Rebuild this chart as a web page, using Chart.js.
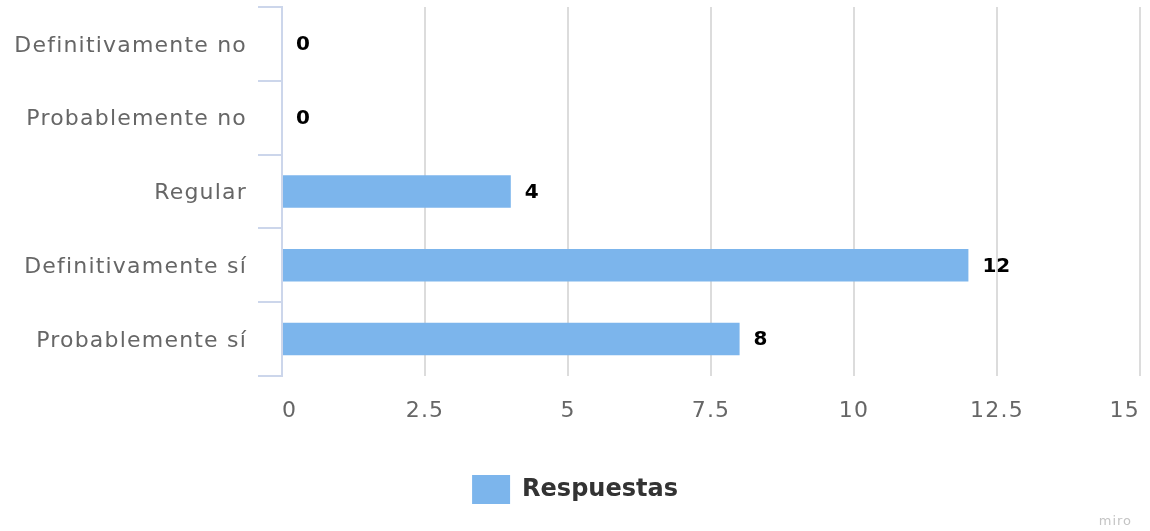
<!DOCTYPE html>
<html>
<head>
<meta charset="utf-8">
<script src="https://cdn.jsdelivr.net/npm/chart.js@4/dist/chart.umd.min.js"></script>
<style>
html,body{margin:0;padding:0;background:#fff;}
#wrap{width:1150px;height:531px;}
</style>
</head>
<body>
<div id="wrap"><canvas id="c" width="1150" height="531"></canvas></div>
<script>
const categories = ["Definitivamente no", "Probablemente no", "Regular", "Definitivamente sí", "Probablemente sí"];
const respuestas = [0, 0, 4, 12, 8];
const seriesName = "Respuestas";
const xTickValues = [0, 2.5, 5, 7.5, 10, 12.5, 15];

const FONT = "'DejaVu Sans', sans-serif";

const dataLabels = {
  id: 'dataLabels',
  afterDatasetsDraw(chart) {
    const ctx = chart.ctx;
    const meta = chart.getDatasetMeta(0);
    ctx.save();
    ctx.letterSpacing = '0px';
    ctx.font = "bold 20px " + FONT;
    ctx.fillStyle = "#000";
    ctx.textAlign = "left";
    ctx.textBaseline = "middle";
    meta.data.forEach((el, i) => {
      ctx.fillText(String(chart.data.datasets[0].data[i]), el.x + 14, el.y + 1);
    });
    ctx.restore();
  }
};

// axis tick labels are drawn after datasets (ticks.z = 1); give them the slightly open spacing of the original
const tickSpacing = {
  id: 'tickSpacing',
  beforeDraw(chart) { chart.ctx.letterSpacing = '0px'; },
  afterDatasetsDraw(chart) { chart.ctx.letterSpacing = '1.2px'; },
  afterDraw(chart) { chart.ctx.letterSpacing = '0px'; }
};

const credit = {
  id: 'credit',
  afterDraw(chart) {
    const ctx = chart.ctx;
    ctx.save();
    ctx.letterSpacing = '1px';
    ctx.font = "13px " + FONT;
    ctx.fillStyle = "#c4c4c4";
    ctx.textAlign = "right";
    ctx.textBaseline = "middle";
    ctx.fillText("miro", 1132, 522);
    ctx.restore();
  }
};

new Chart(document.getElementById('c'), {
  type: 'bar',
  data: {
    labels: categories,
    datasets: [{
      label: seriesName,
      data: respuestas,
      backgroundColor: '#7cb5ec',
      borderWidth: 0,
      barPercentage: 0.44,
      categoryPercentage: 1.0
    }]
  },
  options: {
    indexAxis: 'y',
    responsive: false,
    animation: false,
    layout: { padding: { top: 7, right: 0, left: 0, bottom: 17 } },
    scales: {
      x: {
        min: 0, max: 15,
        afterBuildTicks(scale) { scale.ticks = xTickValues.map(v => ({ value: v })); },
        afterFit(scale) {
          scale.height = 89;
          scale.paddingLeft = 0;
          scale.paddingRight = 10;
        },
        grid: { color: '#dcdcdc', lineWidth: 2, drawTicks: false },
        border: { display: false },
        ticks: {
          z: 1,
          align: 'inner',
          padding: 22,
          color: '#666666',
          font: { family: FONT, size: 22 },
          callback: (v) => String(v)
        }
      },
      y: {
        afterFit(scale) {
          scale.width = 282;
          scale.paddingTop = 0;
          scale.paddingBottom = 0;
        },
        grid: {
          offset: true,
          drawOnChartArea: false,
          drawTicks: true,
          tickLength: 24,
          color: '#ccd6eb',
          lineWidth: 2
        },
        border: { display: true, color: '#ccd6eb', width: 2 },
        ticks: {
          z: 1,
          padding: 11,
          labelOffset: 2,
          color: '#666666',
          font: { family: FONT, size: 22 }
        }
      }
    },
    plugins: {
      legend: {
        position: 'bottom',
        labels: {
          boxWidth: 38,
          boxHeight: 29,
          padding: 10,
          color: '#333333',
          font: { family: FONT, size: 24, weight: 'bold' }
        }
      },
      tooltip: { enabled: false }
    }
  },
  plugins: [dataLabels, tickSpacing, credit]
});
</script>
</body>
</html>
